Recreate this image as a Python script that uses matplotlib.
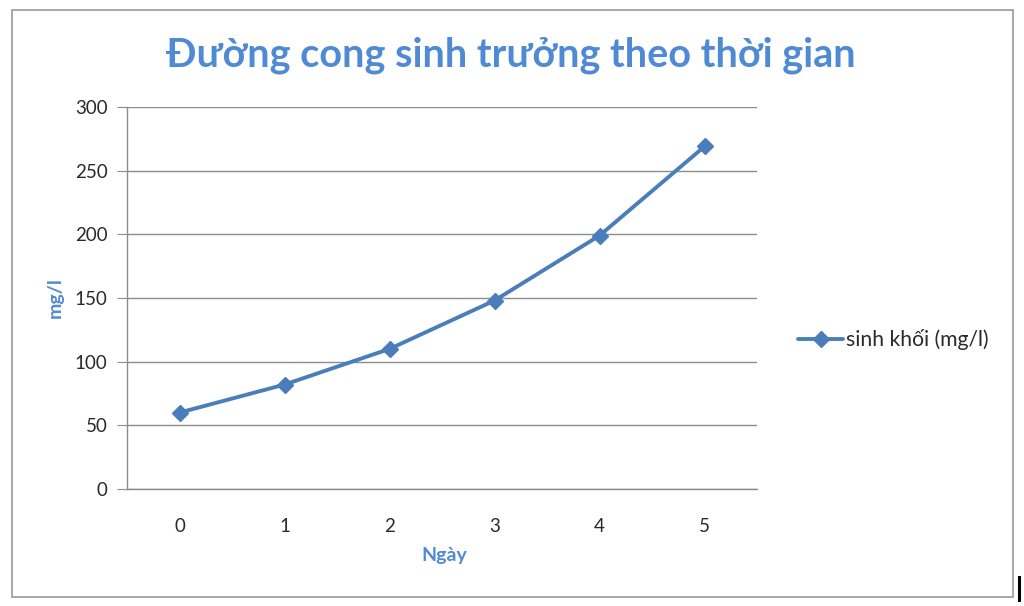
import matplotlib
matplotlib.use("Agg")
import matplotlib.pyplot as plt
from matplotlib.patches import Rectangle
from matplotlib.lines import Line2D

days = [0, 1, 2, 3, 4, 5]
biomass = [60, 82, 110, 148, 199, 269]
yticks = [0, 50, 100, 150, 200, 250, 300]
title = "Đường cong sinh trưởng theo thời gian"
xlabel = "Ngày"
ylabel = "mg/l"
series_label = "sinh khối (mg/l)"

plt.rcParams['font.family'] = ['Lato', 'DejaVu Sans']

W, H = 1024, 606
fig = plt.figure(figsize=(W / 100, H / 100), dpi=100)
fig.patch.set_facecolor('white')

# outer chart border
fig.add_artist(Rectangle((12 / W, 1 - 597 / H), (1013 - 12) / W, (597 - 10) / H,
                         transform=fig.transFigure, fill=False,
                         edgecolor='#9a9a9a', linewidth=1.2))
# cursor artifact at bottom right
fig.add_artist(Line2D([1019 / W, 1019 / W], [1 - 600 / H, 1 - 577 / H],
                      transform=fig.transFigure, color='black', linewidth=2.2))

left, right, top, bottom = 127, 757, 107, 489
ax = fig.add_axes([left / W, 1 - bottom / H, (right - left) / W, (bottom - top) / H])

line_color = '#4A7EBB'
ax.plot(days, biomass, color=line_color, linewidth=2.8, marker='D',
        markersize=8.5, markeredgecolor=line_color, markerfacecolor=line_color,
        label=series_label, solid_capstyle='round')

ax.set_xlim(-0.5, 5.5)
ax.set_ylim(0, 300)
ax.set_yticks(yticks)
ax.set_xticks(days)
ax.set_xticklabels([str(d) for d in days])
ax.grid(axis='y', color='#8c8c8c', linewidth=1.0)
ax.set_axisbelow(True)
for s in ['top', 'right']:
    ax.spines[s].set_visible(False)
for s in ['left', 'bottom']:
    ax.spines[s].set_color('#8c8c8c')
    ax.spines[s].set_linewidth(1.0)
ax.tick_params(axis='y', length=7, color='#8c8c8c', labelsize=13.5,
               labelcolor='#2a2a2a', pad=7)
ax.tick_params(axis='x', length=0, labelsize=13.5, labelcolor='#2a2a2a', pad=21)

title_color = '#4F8AD4'
fig.text(511 / W, 1 - 55 / H, title, ha='center', va='center',
         fontsize=28.5, fontweight='bold', color=title_color)
fig.text(444 / W, 1 - 555 / H, xlabel, ha='center', va='center',
         fontsize=14, fontweight='bold', color=title_color)
fig.text(55 / W, 1 - 298 / H, ylabel, ha='center', va='center', rotation=90,
         fontsize=14, fontweight='bold', color=title_color)

leg = fig.legend(loc='center left', bbox_to_anchor=(790 / W, 1 - 340 / H),
                 frameon=False, fontsize=15.2, handlelength=2.1,
                 handletextpad=0.15, borderaxespad=0)
for t in leg.get_texts():
    t.set_color('#2a2a2a')

fig.savefig('out.png', dpi=100)
